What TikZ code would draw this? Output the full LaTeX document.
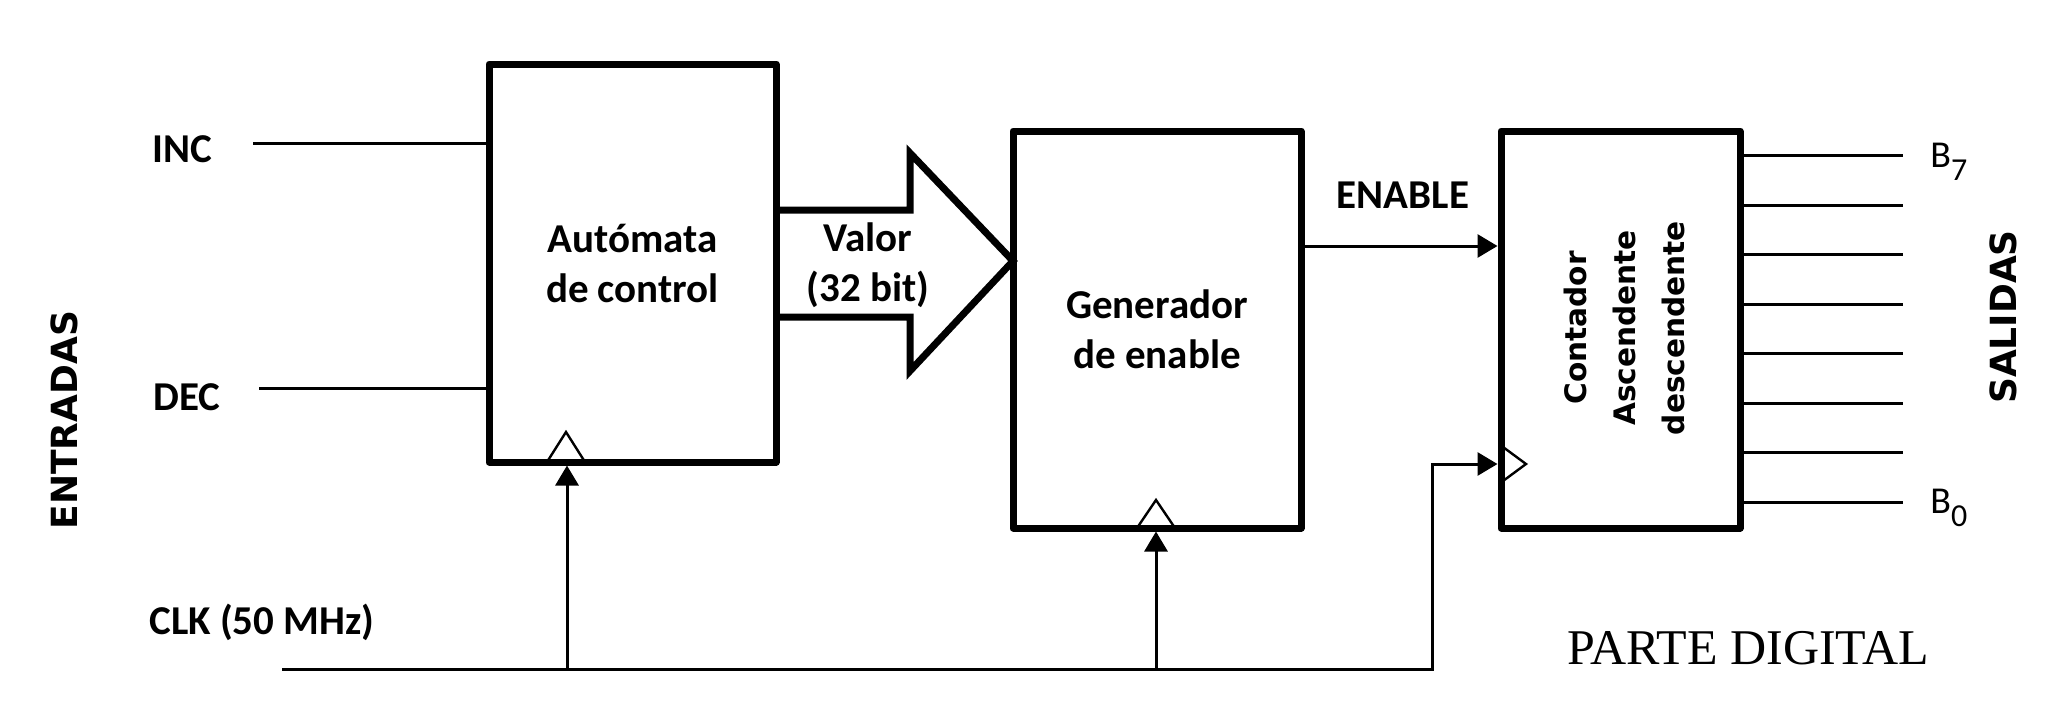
\documentclass[tikz,border=0pt]{standalone}
\usepackage{fontspec}
\setmainfont{Carlito}
\newfontfamily\verdfont{DejaVu Sans}
\newfontfamily\timesfont{Liberation Serif}
\usetikzlibrary{arrows.meta}
\newcommand\bsub[1]{\raisebox{-6.5pt}{\fontsize{16}{16}\selectfont #1}}
\tikzset{
  blk/.style={draw, line width=3.5pt, line join=round, inner sep=0pt},
  sig/.style={line width=1.5pt},
  arr/.style={sig, -{Triangle[length=10pt,width=11.5pt]}},
  clktri/.style={line width=1.2pt, line join=miter},
  lbl/.style={font=\bfseries\fontsize{20.5}{25}\selectfont, align=center},
  side/.style={font=\verdfont\bfseries\fontsize{18}{22}\selectfont, rotate=90},
  outlbl/.style={font=\fontsize{19}{22}\selectfont, anchor=base west, inner sep=0pt},
}
\begin{document}
\begin{tikzpicture}[x=0.5pt,y=0.5pt,yscale=-1]
\useasboundingbox (0,0) rectangle (2062,728);

% blocks
\node[blk, lbl, minimum width=143.5pt, minimum height=199pt] (auto) at (632.5,263) {Autómata\\de control};
\node[blk, lbl, minimum width=144pt, minimum height=198.5pt] (gen) at (1157,329.5) {Generador\\de enable};
\node[blk, minimum width=119.5pt, minimum height=198.5pt] (cnt) at (1620.5,329.5) {};
\node[side, font=\verdfont\bfseries\fontsize{14.8}{24.5}\selectfont, align=center] (cnttxt) at (1624,328) {Contador\\Ascendente\\descendente};

% inputs
\node[lbl] (inc) at (182,149) {INC};
\node[lbl] (dec) at (187,397) {DEC};
\node[lbl] (clk) at (262,622) {CLK (50 MHz)};
\node[side] (entradas) at (64,420) {ENTRADAS};
\coordinate (incin) at (253,143);
\coordinate (decin) at (259,388);
\draw[sig] (incin) -- (incin -| auto.west);
\draw[sig] (decin) -- (decin -| auto.west);

% bus
\draw[line width=3.5pt, line join=miter] (776,210) -- (910,210) -- (910,153) -- (1013,261) -- (910,371) -- (910,317) -- (776,317);
\node[lbl] (valor) at (868,265) {Valor\\(32 bit)};

% enable
\node[lbl] (enable) at (1403,195) {ENABLE};
\draw[arr] ([yshift=-41.75pt]gen.east) -- ([yshift=-41.75pt]cnt.west);

% clock
\coordinate (clkin) at (282,669);
\coordinate (ck1) at (567,669);
\coordinate (ck2) at (1156,669);
\coordinate (ck3) at (1432,669);
\draw[arr] (clkin) -- (ck3) |- ([yshift=67.25pt]cnt.west);
\draw[arr] (ck1) -- (ck1 |- auto.south);
\draw[arr] (ck2) -- (ck2 |- gen.south);
\draw[clktri] (547,462) -- (566,432) -- (585,462);
\draw[clktri] (1137,528) -- (1156,500) -- (1175,528);
\draw[clktri] (1503,447) -- (1526,464) -- (1503,481);

% outputs
\foreach \i in {0,...,7} {
  \coordinate (b\i) at (1903,{502-49.5*\i});
  \draw[sig] (b\i -| cnt.east) -- (b\i);
}
\node[outlbl] (b7lbl) at (1930,167) {B\bsub{7}};
\node[outlbl] (b0lbl) at (1930,513) {B\bsub{0}};
\node[side] (salidas) at (2003,317) {SALIDAS};

\node[font=\timesfont\fontsize{25}{30}\selectfont] (parte) at (1748,648) {PARTE DIGITAL};
\end{tikzpicture}
\end{document}
